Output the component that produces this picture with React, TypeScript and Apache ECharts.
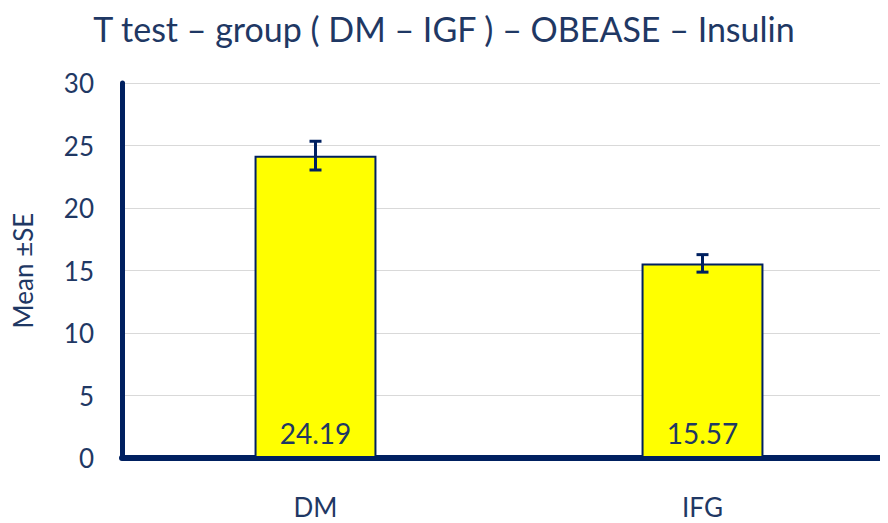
import React, { useEffect, useRef } from "react";
import * as echarts from "echarts";

const categories = ["DM", "IFG"];
const means = [24.19, 15.57];
const errors = [1.15, 0.7];
const yTicks = [0, 5, 10, 15, 20, 25, 30];

const NAVY = "#002060";
const TEXT = "#1f3864";
const FONT = "Lato";

export default function App() {
  const ref = useRef<HTMLDivElement>(null);
  useEffect(() => {
    const chart = echarts.init(ref.current!, null, { renderer: "svg" });
    chart.setOption({
      animation: false,
      title: {
        text: "T test \u2013 group ( DM \u2013 IGF ) \u2013 OBEASE \u2013 Insulin",
        left: "center",
        top: -2,
        textStyle: { color: TEXT, fontSize: 34, fontWeight: "normal", fontFamily: FONT },
      },
      grid: { left: 114, right: -16, top: 75, bottom: 65, outerBoundsMode: "none", containLabel: false },
      xAxis: {
        type: "category",
        data: categories,
        axisLine: { lineStyle: { color: NAVY, width: 6 } },
        axisTick: { show: false },
        axisLabel: { color: TEXT, fontSize: 26, fontFamily: FONT, margin: 36 },
      },
      yAxis: {
        type: "value",
        min: yTicks[0],
        max: yTicks[yTicks.length - 1],
        interval: 5,
        name: "Mean \u00b1SE",
        nameLocation: "middle",
        nameGap: 86,
        nameTextStyle: { color: TEXT, fontSize: 26, fontFamily: FONT },
        axisLine: { show: true, lineStyle: { color: NAVY, width: 5 } },
        axisTick: { show: false },
        axisLabel: { color: TEXT, fontSize: 26, fontFamily: FONT, margin: 28 },
        splitLine: { lineStyle: { color: "#d9d9d9", width: 1 } },
      },
      series: [
        {
          type: "bar",
          data: means,
          barWidth: "31.5%",
          itemStyle: { color: "#ffff00", borderColor: NAVY, borderWidth: 2 },
          label: {
            show: true,
            position: "insideBottom",
            distance: 11,
            color: TEXT,
            fontSize: 28,
            fontFamily: FONT,
            formatter: (p: any) => p.value.toFixed(2),
          },
          z: 2,
        },
        {
          type: "custom",
          data: means.map((m, i) => [i, m - errors[i], m + errors[i]]),
          z: 5,
          renderItem: (params: any, api: any) => {
            const x = api.value(0);
            const lo = api.coord([x, api.value(1)]);
            const hi = api.coord([x, api.value(2)]);
            const half = 6;
            const style = { stroke: NAVY, lineWidth: 3 };
            return {
              type: "group",
              children: [
                { type: "line", shape: { x1: hi[0], y1: hi[1], x2: lo[0], y2: lo[1] }, style },
                { type: "line", shape: { x1: hi[0] - half, y1: hi[1], x2: hi[0] + half, y2: hi[1] }, style },
                { type: "line", shape: { x1: lo[0] - half, y1: lo[1], x2: lo[0] + half, y2: lo[1] }, style },
              ],
            };
          },
        },
      ],
    });
    return () => chart.dispose();
  }, []);
  return <div ref={ref} style={{ width: 872, height: 515 }} />;
}
